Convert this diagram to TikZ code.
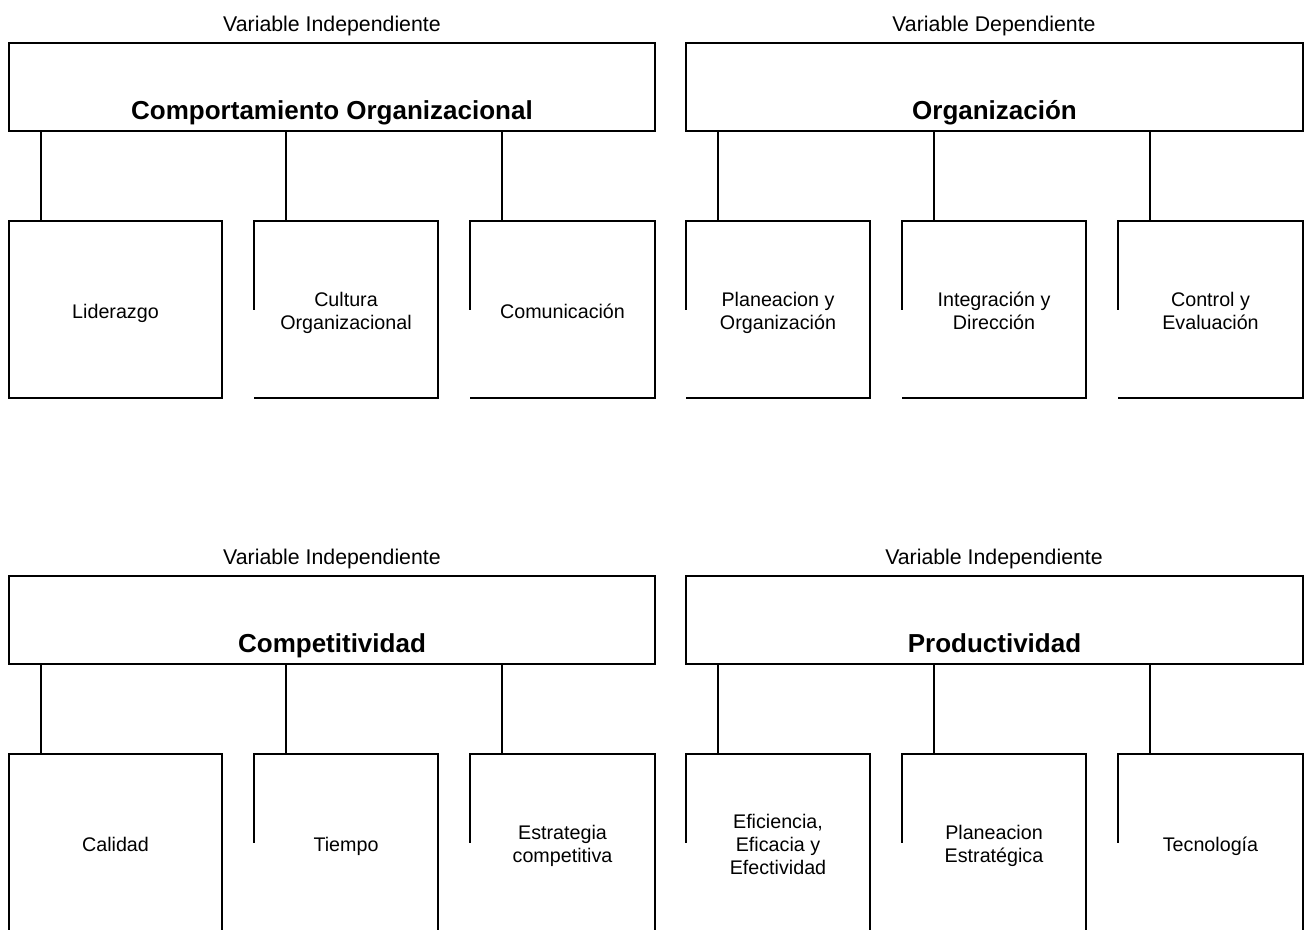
\documentclass[tikz,border=0pt]{standalone}
\usepackage{fontspec}
\setmainfont{Liberation Sans}
% strut that gives every line of a sub-box label the same height and depth
\newcommand{\lnstrut}{\rule[-4.5pt]{0pt}{26pt}}
% sub-box label font with a fixed 23pt line pitch
\newcommand{\leaffont}{\fontsize{19.7}{23}\selectfont\lineskiplimit=-50pt\relax\lineskip=0pt\relax}
\begin{document}
\begin{tikzpicture}[x=1pt,y=-1pt,
  edge/.style={line width=2pt},
  hdrbox/.style={draw, line width=2pt, inner sep=0pt, outer sep=0pt, minimum height=88pt},
  leaf/.style={inner sep=0pt, outer sep=0pt, minimum height=177pt, align=center,
               font=\leaffont},
  fullleaf/.style={leaf, draw, line width=2pt},
  varlabel/.style={anchor=base, inner sep=0pt, font=\fontsize{21.3}{25}\selectfont},
  title/.style={anchor=base, inner sep=0pt, font=\fontsize{26}{30}\selectfont\bfseries}]
\clip (0,0) rectangle (1309,929);
\fill[white] (0,0) rectangle (1309,929);

% ---------- Comportamiento Organizacional ----------
\node[varlabel] (v1) at (332,31) {Variable Independiente};
\node[hdrbox, minimum width=646pt] (h1) at (332,87) {};
\node[title] (t1) at (332,119) {Comportamiento Organizacional};
\node[fullleaf, minimum width=213pt] (a1) at (115.5,309.5) {\lnstrut Liderazgo};
\node[leaf, minimum width=184pt] (a2) at (346,309.5) {\lnstrut Cultura\\\lnstrut Organizacional};
\node[leaf, minimum width=185pt] (a3) at (562.5,309.5) {\lnstrut Comunicación};

% ---------- Organización ----------
\node[varlabel] (v2) at (994,31) {Variable Dependiente};
\node[hdrbox, minimum width=617pt] (h2) at (994.5,87) {};
\node[title] (t2) at (994.5,119) {Organización};
\node[leaf, minimum width=184pt] (b1) at (778,309.5) {\lnstrut Planeacion y\\\lnstrut Organización};
\node[leaf, minimum width=184pt] (b2) at (994,309.5) {\lnstrut Integración y\\\lnstrut Dirección};
\node[leaf, minimum width=185pt] (b3) at (1210.5,309.5) {\lnstrut Control y\\\lnstrut Evaluación};

% ---------- Competitividad ----------
\node[varlabel] (v3) at (332,564) {Variable Independiente};
\node[hdrbox, minimum width=646pt] (h3) at (332,620) {};
\node[title] (t3) at (332,652) {Competitividad};
\node[fullleaf, minimum width=213pt] (c1) at (115.5,842.5) {\lnstrut Calidad};
\node[leaf, minimum width=184pt] (c2) at (346,842.5) {\lnstrut Tiempo};
\node[leaf, minimum width=185pt] (c3) at (562.5,842.5) {\lnstrut Estrategia\\\lnstrut competitiva};

% ---------- Productividad ----------
\node[varlabel] (v4) at (994,564) {Variable Independiente};
\node[hdrbox, minimum width=617pt] (h4) at (994.5,620) {};
\node[title] (t4) at (994.5,652) {Productividad};
\node[leaf, minimum width=184pt] (d1) at (778,842.5) {\lnstrut Eficiencia,\\\lnstrut Eficacia y\\\lnstrut Efectividad};
\node[leaf, minimum width=184pt] (d2) at (994,842.5) {\lnstrut Planeacion\\\lnstrut Estratégica};
\node[leaf, minimum width=185pt] (d3) at (1210.5,842.5) {\lnstrut Tecnología};

% open boxes: left side drawn only down to mid-height
\foreach \n in {a2,a3,b1,b2,b3,c2,c3,d1,d2,d3}
  \draw[edge] (\n.west) -- (\n.north west) -- (\n.north east)
              -- (\n.south east) -- (\n.south west);

% connectors from each header down to its sub-boxes
\foreach \h/\n in {h1/a1,h1/a2,h1/a3,h2/b1,h2/b2,h2/b3,
                   h3/c1,h3/c2,h3/c3,h4/d1,h4/d2,h4/d3}
  \draw[edge] ([xshift=32pt]\n.north west) -- ([xshift=32pt]\n.north west |- \h.south);
\end{tikzpicture}
\end{document}
